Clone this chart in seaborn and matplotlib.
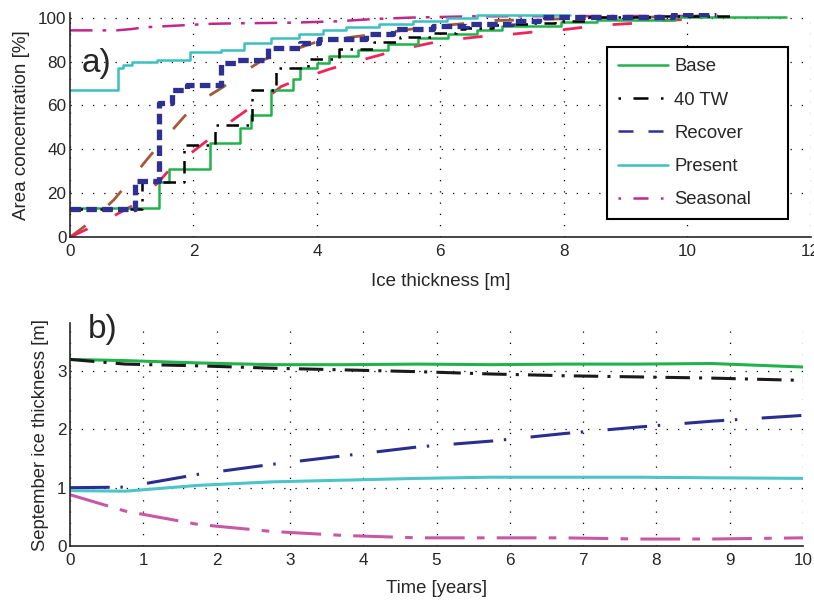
import numpy as np
import pandas as pd
import seaborn as sns
import matplotlib
matplotlib.use("Agg")
from matplotlib import pyplot as plt
from matplotlib.lines import Line2D
from matplotlib.ticker import MultipleLocator

# ---- panel a: cumulative area concentration vs ice thickness (step curves)
base_x = [0, 1.44, 1.60, 2.27, 2.76, 2.93, 3.26, 3.62, 3.72, 4.0, 4.2, 4.67, 5.15, 5.64, 6.13, 6.6, 7.0, 7.95, 8.53, 9.8, 11.6]
base_y = [13.5, 25, 31, 43, 49.6, 55.7, 67, 72, 77, 79.3, 82.6, 85.1, 88.1, 90.7, 92.7, 94.2, 96.0, 98.0, 99.1, 100.3, 100.3]

tw_x = [0, 1.17, 1.85, 2.35, 2.95, 3.33, 3.85, 4.35, 4.93, 5.35, 5.85, 6.25, 6.4, 6.85, 7.05, 7.45, 7.85, 8.35, 9.6, 10.75]
tw_y = [12.8, 25, 42, 51, 67, 77, 81, 85.5, 89, 91, 93, 94.7, 95.1, 96.6, 97.3, 97.6, 98.3, 100.2, 100.9, 100.9]

rec_x = [0, 1.06, 1.44, 1.66, 1.9, 2.44, 2.71, 3.2, 3.73, 4.04, 4.8, 5.23, 5.88, 6.43, 7.16, 7.6, 9.77, 10.47]
rec_y = [12.8, 25.5, 61, 67, 69.4, 79.3, 80.8, 86, 88.4, 90.3, 92.7, 94.8, 96, 97.3, 98.6, 100.3, 101.6, 101.6]

pres_x = [0, 0.77, 0.86, 1.0, 1.41, 1.95, 2.44, 2.82, 3.25, 3.71, 4.1, 4.47, 5.0, 5.55, 6.1, 6.6, 8.1]
pres_y = [67, 77, 78.5, 79.8, 80.8, 84.2, 85.4, 88.4, 90.7, 92.7, 94.2, 95.7, 97, 98.3, 99.8, 101, 101]

seas_x = [0, 0.75, 1.0, 1.2, 2.3, 2.7, 3.6, 4.3, 4.95, 5.5, 6.5, 10.5]
seas_y = [94.2, 94.2, 94.8, 95.6, 97.2, 97.4, 97.7, 98.3, 99.4, 100, 100.6, 100.8]

# smooth reference curves (no legend entry)
brown_x = [0, 0.31, 0.71, 0.92, 1.25, 1.47, 1.82, 2.04, 2.49, 2.74, 3.13, 3.38, 3.97, 4.24, 4.87, 5.2, 5.72, 6.6, 6.87, 7.47, 8.3, 9.2, 10.2]
brown_y = [0, 6.5, 17, 24, 35.5, 42.8, 54, 60.7, 68.6, 74, 80.8, 83, 88.7, 90, 92.2, 93.5, 95.5, 97.9, 98.7, 99.0, 99.8, 100.1, 100.8]

red_x = [0, 0.24, 0.73, 1.03, 1.43, 1.62, 2.2, 2.41, 2.87, 3.15, 3.42, 3.64, 4.21, 4.54, 5.0, 5.32, 5.84, 6.17, 6.7, 7.0, 7.63, 7.9, 8.43, 8.77, 9.3, 9.63, 10.1]
red_y = [0, 3.2, 10, 14.6, 25, 31, 43.5, 48.8, 58, 62.6, 68.6, 71.2, 76.6, 79.3, 82.8, 85.3, 88.4, 89.9, 91.5, 92, 93.8, 94.2, 96, 96.8, 97.7, 98.8, 99.3]

# ---- panel b: September ice thickness over time
years = [0, 0.75, 1.75, 2.75, 3.75, 4.75, 5.75, 6.75, 7.75, 8.75, 10]
base_thk = [3.20, 3.18, 3.14, 3.11, 3.11, 3.12, 3.11, 3.12, 3.12, 3.13, 3.07]
tw_thk = [3.20, 3.12, 3.09, 3.05, 3.02, 2.99, 2.95, 2.92, 2.90, 2.88, 2.84]
rec_thk = [1.00, 1.01, 1.23, 1.40, 1.55, 1.70, 1.80, 1.93, 2.04, 2.14, 2.24]
pres_thk = [0.95, 0.94, 1.04, 1.10, 1.13, 1.16, 1.18, 1.18, 1.18, 1.17, 1.16]
seas_thk = [0.88, 0.60, 0.37, 0.25, 0.18, 0.14, 0.14, 0.14, 0.12, 0.12, 0.14]

labels = ["Base", "40 TW", "Recover", "Present", "Seasonal"]

GREEN = "#22b24c"
BLACK = "#000000"
BLUE = "#2e3192"
TEAL = "#3cc0c0"
MAGENTA = "#c0288c"
MAGENTA_B = "#c858a6"
BROWN = "#a25a3a"
RED = "#f0245a"

sns.set_style("white")
plt.rcParams["font.family"] = ["Liberation Sans", "DejaVu Sans"]
plt.rcParams["xtick.direction"] = "in"
plt.rcParams["ytick.direction"] = "in"
plt.rcParams["font.size"] = 12

fig = plt.figure(figsize=(8.14, 6.02), dpi=100)
ax1 = fig.add_axes([0.086, 0.606, 0.910, 0.372])
ax2 = fig.add_axes([0.086, 0.093, 0.9005, 0.370])

grid_kw = dict(color="black", linestyle=(0, (1, 8)), linewidth=0.9)

# panel a
sns.lineplot(x=brown_x, y=brown_y, ax=ax1, color=BROWN, linewidth=2, linestyle=(0, (7, 11)), estimator=None, sort=False)
sns.lineplot(x=red_x, y=red_y, ax=ax1, color=RED, linewidth=2, linestyle=(0, (7, 11)), estimator=None, sort=False)
sns.lineplot(x=seas_x, y=seas_y, ax=ax1, color=MAGENTA, linewidth=1.8, linestyle=(0, (9, 4, 1.5, 4)), estimator=None, sort=False)
sns.lineplot(x=pres_x, y=pres_y, ax=ax1, color=TEAL, linewidth=1.8, drawstyle="steps-post", estimator=None, sort=False)
sns.lineplot(x=base_x, y=base_y, ax=ax1, color=GREEN, linewidth=1.8, drawstyle="steps-post", estimator=None, sort=False)
sns.lineplot(x=tw_x, y=tw_y, ax=ax1, color=BLACK, linewidth=1.8, linestyle=(0, (5, 3, 1, 3)), drawstyle="steps-post", estimator=None, sort=False)
sns.lineplot(x=rec_x, y=rec_y, ax=ax1, color=BLUE, linewidth=3.8, linestyle=(0, (2, 1)), drawstyle="steps-post", estimator=None, sort=False)

ax1.set_xlim(0, 12)
ax1.set_ylim(0, 102)
ax1.set_xticks(np.arange(0, 13, 2))
ax1.set_yticks(np.arange(0, 101, 20))
ax1.grid(True, **grid_kw)
ax1.set_xlabel("Ice thickness [m]", fontsize=13.5, labelpad=10)
ax1.set_ylabel("Area concentration [%]", fontsize=13.5, labelpad=6)
ax1.text(0.016, 0.737, "a)", transform=ax1.transAxes, fontsize=24, va="baseline")

handles = [
    Line2D([], [], color=GREEN, linewidth=1.8),
    Line2D([], [], color=BLACK, linewidth=1.8, linestyle=(0, (1, 5, 6, 5))),
    Line2D([], [], color=BLUE, linewidth=1.8, linestyle=(0, (6, 6))),
    Line2D([], [], color=TEAL, linewidth=1.8),
    Line2D([], [], color=MAGENTA, linewidth=1.8, linestyle=(0, (1, 5, 6, 5))),
]
leg = ax1.legend(handles, labels, loc="upper left", bbox_to_anchor=(0.7247, 0.0, 0.2443, 0.848),
                 mode="expand", borderaxespad=0, fontsize=13.3, frameon=True, fancybox=False,
                 labelspacing=0.88, handlelength=2.7, borderpad=0.6, handletextpad=0.35)
leg.get_frame().set_edgecolor("black")
leg.get_frame().set_linewidth(1.5)
leg.get_frame().set_alpha(1)

# panel b
sns.lineplot(x=years, y=base_thk, ax=ax2, color=GREEN, linewidth=2.2, estimator=None, sort=False)
sns.lineplot(x=years, y=tw_thk, ax=ax2, color="#1a1a1a", linewidth=2.2, linestyle=(0, (8, 3, 1, 3)), estimator=None, sort=False)
sns.lineplot(x=years, y=rec_thk, ax=ax2, color="#2a2f8f", linewidth=2.2, linestyle=(0, (13, 3.5, 0.8, 8)), estimator=None, sort=False)
sns.lineplot(x=years, y=pres_thk, ax=ax2, color="#4cc4c8", linewidth=2.2, estimator=None, sort=False)
sns.lineplot(x=years, y=seas_thk, ax=ax2, color=MAGENTA_B, linewidth=2.2, linestyle=(0, (13, 4, 2.5, 4)), estimator=None, sort=False)

ax2.set_xlim(0, 10)
ax2.set_ylim(0, 3.82)
ax2.set_xticks(np.arange(0, 11, 1))
ax2.set_yticks([0, 1, 2, 3])
ax2.xaxis.set_minor_locator(MultipleLocator(0.2))
ax2.grid(True, which="major", **grid_kw)
ax2.set_xlabel("Time [years]", fontsize=13.3, labelpad=9)
ax2.set_ylabel("September ice thickness [m]", fontsize=13.3, labelpad=6)
ax2.text(0.0245, 0.933, "b)", transform=ax2.transAxes, fontsize=24, va="baseline", clip_on=False)

for ax in (ax1, ax2):
    sns.despine(ax=ax)
    ax.spines["left"].set_linewidth(1.2)
    ax.spines["bottom"].set_linewidth(1.2)
    ax.tick_params(which="major", length=4, width=1, labelsize=12.3)
    ax.tick_params(axis="x", pad=5)
    ax.tick_params(axis="y", pad=2.5)
    ax.tick_params(which="minor", length=2, width=0.8)

fig.savefig("out.png", dpi=100)
